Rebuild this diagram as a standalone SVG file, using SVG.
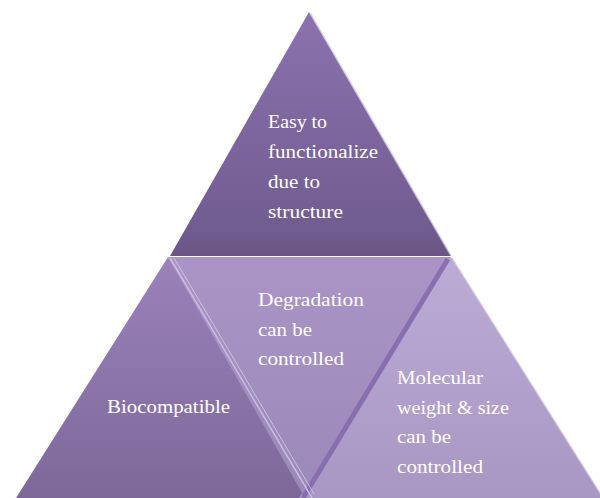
<svg xmlns="http://www.w3.org/2000/svg" width="600" height="498" viewBox="0 0 600 498">
<defs>
<linearGradient id="gTop" x1="0" y1="0" x2="0" y2="1">
<stop offset="0" stop-color="#8b72ae"/>
<stop offset="0.9" stop-color="#715c90"/>
<stop offset="0.95" stop-color="#6c5787"/>
<stop offset="1" stop-color="#6a5585"/>
</linearGradient>
<linearGradient id="gLeft" x1="0" y1="0" x2="0" y2="1">
<stop offset="0" stop-color="#9a82ba"/>
<stop offset="1" stop-color="#7e6899"/>
</linearGradient>
<linearGradient id="gMid" x1="0" y1="0" x2="0" y2="1">
<stop offset="0" stop-color="#aa94c6"/>
<stop offset="1" stop-color="#9b89b9"/>
</linearGradient>
<linearGradient id="gRight" x1="0" y1="0" x2="0" y2="1">
<stop offset="0" stop-color="#bcabd5"/>
<stop offset="1" stop-color="#a897c3"/>
</linearGradient>
<style>
.hl{stroke:#cbbde2;stroke-width:1.5;fill:none}
.dk{stroke:#8468ad;stroke-width:5;fill:none;stroke-opacity:0.85}
.t{font-family:'Liberation Serif','DejaVu Serif',serif;font-size:18px;fill:#ffffff}
</style>
</defs>
<g id="node-left">
<polygon points="168,257 16,498 312,498" fill="url(#gLeft)"/>
<text class="t" x="107" y="413" textLength="123" lengthAdjust="spacingAndGlyphs">Biocompatible</text>
</g>
<g id="node-right">
<polygon points="451,257 299,498 603,498" fill="url(#gRight)"/>
<line class="hl" x1="452" y1="258" x2="603" y2="498" stroke-opacity="0.6"/>
<text class="t" x="397" y="384" textLength="86" lengthAdjust="spacingAndGlyphs">Molecular</text>
<text class="t" x="397" y="414" textLength="112" lengthAdjust="spacingAndGlyphs">weight &amp; size</text>
<text class="t" x="397" y="443" textLength="54" lengthAdjust="spacingAndGlyphs">can be</text>
<text class="t" x="397" y="473" textLength="86" lengthAdjust="spacingAndGlyphs">controlled</text>
</g>
<g id="node-middle">
<polygon points="168,257 451,257 305,498" fill="url(#gMid)"/>
<line class="dk" x1="448" y1="259" x2="303" y2="498"/>
<line class="hl" x1="170" y1="258" x2="312" y2="498"/>
<line x1="174" y1="258" x2="314" y2="494" stroke="#e0d6ee" stroke-width="1" stroke-opacity="0.7"/>
<text class="t" x="258" y="306" textLength="106" lengthAdjust="spacingAndGlyphs">Degradation</text>
<text class="t" x="258" y="336" textLength="54" lengthAdjust="spacingAndGlyphs">can be</text>
<text class="t" x="258" y="365" textLength="86" lengthAdjust="spacingAndGlyphs">controlled</text>
</g>
<g id="node-top">
<polygon points="309,12 170,256 451,256" fill="url(#gTop)"/>
<line class="hl" x1="310" y1="13" x2="451" y2="256" stroke-opacity="0.7"/>
<text class="t" x="268" y="128" textLength="59" lengthAdjust="spacingAndGlyphs">Easy to</text>
<text class="t" x="268" y="158" textLength="110" lengthAdjust="spacingAndGlyphs">functionalize</text>
<text class="t" x="268" y="188" textLength="52" lengthAdjust="spacingAndGlyphs">due to</text>
<text class="t" x="268" y="218" textLength="75" lengthAdjust="spacingAndGlyphs">structure</text>
</g>
</svg>
